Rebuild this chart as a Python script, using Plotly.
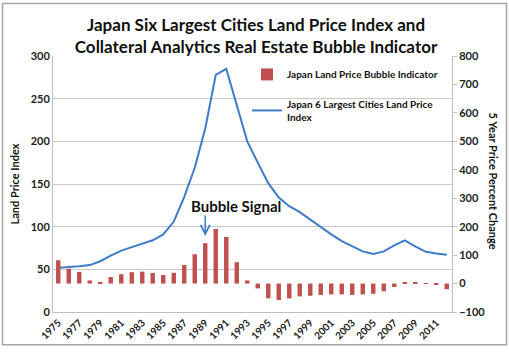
import plotly.graph_objects as go

years = [str(y) for y in range(1975, 2013)]
tick_labels = [str(y) for y in range(1975, 2013, 2)]

land_price_index = [52, 52.5, 53.5, 55, 59.5, 66, 72, 76, 80, 84, 91, 106, 135, 169,
                    215, 278, 285, 242, 200, 175, 151, 134, 124, 117, 108, 99, 91, 83,
                    77, 71, 68, 71, 78, 84, 77, 70.5, 68.5, 67]

bubble_indicator = [82, 52, 41, 11, 2, 23, 33, 40, 42, 37, 30, 38, 65, 103, 142, 192,
                    164, 75, 11, -17, -52, -58, -52, -45, -43, -40, -38, -38, -40, -38,
                    -36, -27, -12, 5, 3, -1, -2, -20]

signal_year = "1989"

FONT = "Lato"
W, H = 509, 353
L, R, T, B = 53, 57, 56, 36
pw, ph = W - L - R, H - T - B

def px_x(x):
    return (x - L) / pw

def px_y(y):
    return (H - B - y) / ph

fig = go.Figure()
fig.add_trace(go.Bar(
    x=years, y=bubble_indicator, yaxis="y2",
    name="Japan Land Price Bubble Indicator",
    marker=dict(color="#c0504d", line=dict(width=0)),
    legendgroup="a",
))
fig.add_trace(go.Scatter(
    x=years, y=land_price_index, mode="lines",
    name="Japan 6 Largest Cities Land Price<br>Index",
    line=dict(color="#3d7cc9", width=2),
    legendgroup="b",
))

fig.update_layout(
    width=W, height=H,
    margin=dict(l=L, r=R, t=T, b=B),
    paper_bgcolor="white", plot_bgcolor="white",
    font=dict(family=FONT, color="#222222"),
    bargap=0.58,
    title=dict(
        text="<b>Japan Six Largest Cities Land Price Index and<br>Collateral Analytics Real Estate Bubble Indicator</b>",
        x=0.503, xanchor="center", y=1 - 31 / H, yanchor="middle",
        font=dict(size=17, family=FONT, color="#111111"),
    ),
    xaxis=dict(
        type="category", tickmode="array", tickvals=tick_labels, ticktext=tick_labels,
        tickangle=-45, tickfont=dict(size=10, family=FONT, weight="bold"),
        showgrid=False, showline=True, linecolor="#bfbfbf", linewidth=1,
        ticks="", range=[-0.5, len(years) - 0.5],
    ),
    yaxis=dict(
        range=[0, 300], dtick=50, showgrid=True, gridcolor="#c8c8c8", gridwidth=1,
        showline=True, linecolor="#bfbfbf", linewidth=1, ticks="",
        tickfont=dict(size=11, family=FONT, weight="bold"), zeroline=False,
    ),
    yaxis2=dict(
        range=[-100, 800], dtick=100, overlaying="y", side="right",
        showgrid=False, showline=True, linecolor="#bfbfbf", linewidth=1,
        ticks="outside", ticklen=4, tickcolor="#bfbfbf",
        tickfont=dict(size=11, family=FONT, weight="bold"), zeroline=False,
    ),
    legend=dict(
        x=px_x(247), y=px_y(60), xanchor="left", yanchor="top",
        bgcolor="rgba(0,0,0,0)",
        font=dict(size=10, family=FONT, color="#111111", weight="bold"),
        tracegroupgap=12, traceorder="grouped",
    ),
    showlegend=True,
)

fig.add_annotation(
    text="<b>Land Price Index</b>", textangle=-90, xref="paper", yref="paper",
    x=px_x(14), y=px_y(187), showarrow=False, xanchor="center", yanchor="middle",
    font=dict(size=11, family=FONT, color="#111111"),
)
fig.add_annotation(
    text="<b>5 Year Price Percent Change</b>", textangle=90, xref="paper", yref="paper",
    x=px_x(493), y=px_y(183), showarrow=False, xanchor="center", yanchor="middle",
    font=dict(size=11, family=FONT, color="#111111"),
)
fig.add_annotation(
    text="<b>Bubble Signal</b>", xref="paper", yref="paper",
    x=px_x(236), y=px_y(209), showarrow=False, xanchor="center", yanchor="middle",
    font=dict(size=15, family=FONT, color="#111111"),
)
fig.add_annotation(
    text="", x=years.index(signal_year), y=89, xref="x", yref="y", showarrow=True,
    ax=0, ay=-22, arrowhead=5, arrowsize=1.2, arrowwidth=1.5, arrowcolor="#3d7cc9",
)

fig.add_shape(
    type="rect", xref="paper", yref="paper",
    x0=px_x(2.5), x1=px_x(506.5), y0=px_y(350.5), y1=px_y(2.5),
    line=dict(color="#a6a6a6", width=1.5), fillcolor="rgba(0,0,0,0)", layer="below",
)

fig.write_html("out.html")
